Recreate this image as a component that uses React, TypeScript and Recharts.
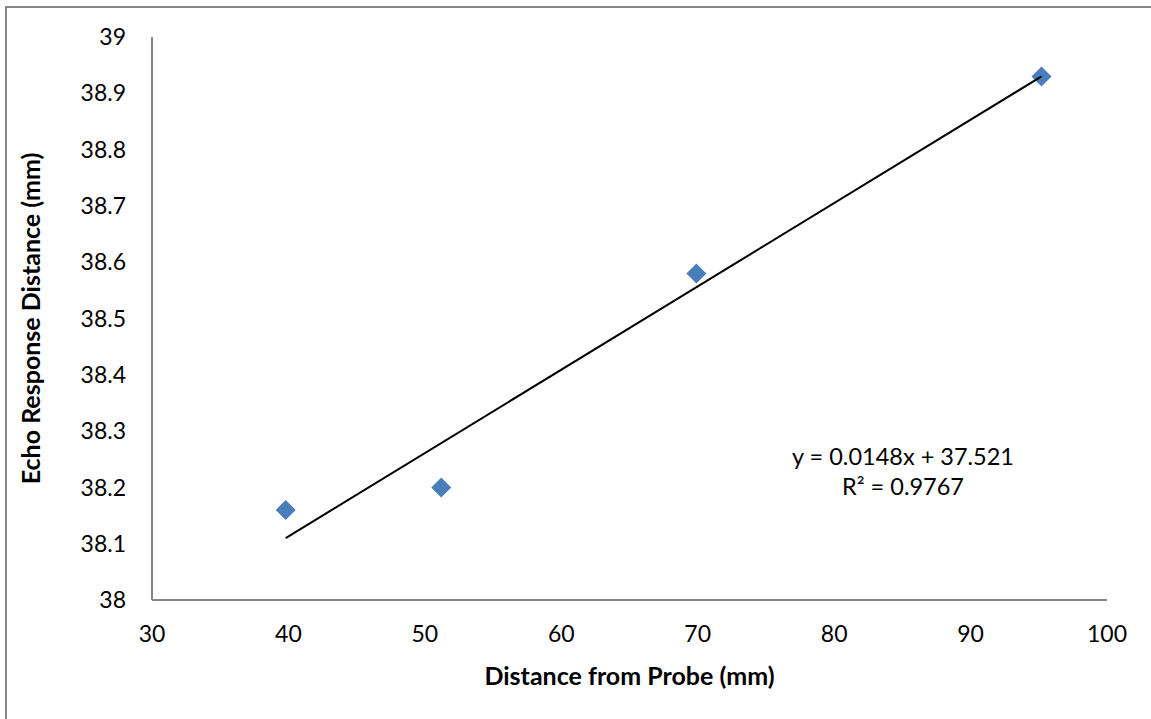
import { ScatterChart, Scatter, XAxis, YAxis, Label } from "recharts";

// measured points: distance from probe (mm) vs echo response distance (mm)
const probeDistance = [39.8, 51.2, 69.9, 95.2];
const echoDistance = [38.16, 38.2, 38.58, 38.93];

// linear trendline end points
const trendX = [39.8, 95.2];
const trendY = [38.11, 38.93];

const xTicks = [30, 40, 50, 60, 70, 80, 90, 100];
const yTicks = [38, 38.1, 38.2, 38.3, 38.4, 38.5, 38.6, 38.7, 38.8, 38.9, 39];

const equationText = "y = 0.0148x + 37.521";
const rSquaredText = "R² = 0.9767";

const points = probeDistance.map((x, i) => ({ x, y: echoDistance[i] }));
const trend = trendX.map((x, i) => ({ x, y: trendY[i] }));

const FONT = "Lato, 'Noto Sans', sans-serif";
const AXIS_GRAY = "#868686";

const Diamond = (props: any) => {
  const { cx, cy } = props;
  const r = 10;
  return (
    <polygon
      points={`${cx},${cy - r} ${cx + r},${cy} ${cx},${cy + r} ${cx - r},${cy}`}
      fill="#4a7ebb"
    />
  );
};

const NoMarker = () => <g />;

const fmtY = (v: number) => (Number.isInteger(v) ? String(v) : v.toFixed(1));

export default function App() {
  return (
    <div
      style={{
        position: "absolute",
        left: 0,
        top: 0,
        width: 1151,
        height: 719,
        background: "#fff",
        fontFamily: FONT,
        overflow: "hidden",
      }}
    >
      {/* outer chart border */}
      <div
        style={{
          position: "absolute",
          left: 5,
          top: 6,
          width: 1200,
          height: 800,
          borderTop: `2px solid ${AXIS_GRAY}`,
          borderLeft: `2px solid ${AXIS_GRAY}`,
        }}
      />

      <ScatterChart
        width={1151}
        height={719}
        margin={{ top: 37, right: 44, bottom: 59, left: 52 }}
        style={{ position: "absolute", left: 0, top: 0 }}
      >
        <XAxis
          type="number"
          dataKey="x"
          domain={[30, 100]}
          ticks={xTicks}
          height={60}
          tickLine={false}
          tickMargin={20}
          axisLine={{ stroke: AXIS_GRAY, strokeWidth: 2 }}
          tick={{ fill: "#000", fontSize: 23, fontFamily: FONT }}
          allowDataOverflow
        >
          <Label
            value="Distance from Probe (mm)"
            position="insideBottom"
            offset={-25}
            style={{ fill: "#000", fontSize: 25, fontWeight: 700, fontFamily: FONT }}
          />
        </XAxis>
        <YAxis
          type="number"
          dataKey="y"
          domain={[38, 39]}
          ticks={yTicks}
          width={100}
          tickLine={false}
          tickMargin={20}
          tickFormatter={fmtY}
          axisLine={{ stroke: AXIS_GRAY, strokeWidth: 2 }}
          tick={{ fill: "#000", fontSize: 23, fontFamily: FONT }}
          allowDataOverflow
        >
          <Label
            value="Echo Response Distance (mm)"
            angle={-90}
            position="insideLeft"
            offset={-21}
            style={{
              fill: "#000",
              fontSize: 25,
              fontWeight: 700,
              fontFamily: FONT,
              textAnchor: "middle",
            }}
          />
        </YAxis>
        <Scatter data={points} shape={Diamond} isAnimationActive={false} />
        <Scatter
          data={trend}
          line={{ stroke: "#000", strokeWidth: 2 }}
          shape={NoMarker}
          isAnimationActive={false}
        />
      </ScatterChart>

      {/* trendline equation */}
      <div
        style={{
          position: "absolute",
          left: 763,
          top: 441,
          width: 280,
          textAlign: "center",
          fontSize: 23.5,
          lineHeight: "30px",
          color: "#000",
        }}
      >
        <div>{equationText}</div>
        <div>{rSquaredText}</div>
      </div>
    </div>
  );
}
